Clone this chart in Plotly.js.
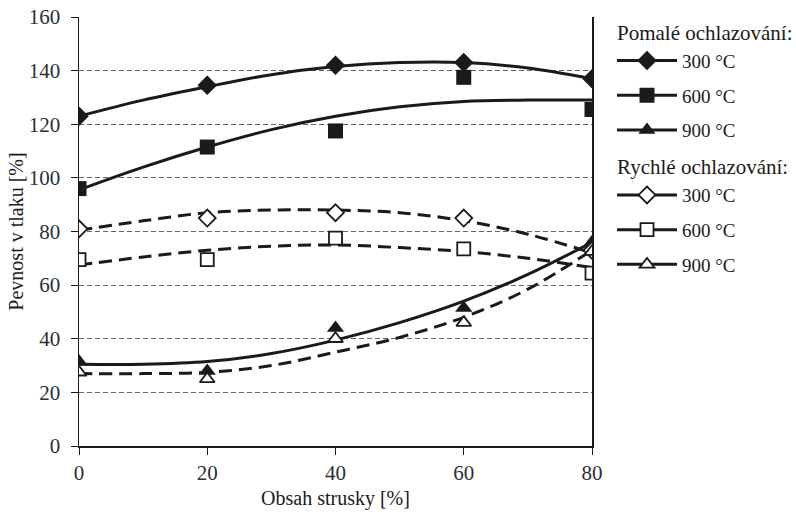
<!DOCTYPE html>
<html><head><meta charset="utf-8">
<script src="https://cdn.plot.ly/plotly-3.0.1.min.js"></script>
<style>body{margin:0;background:#fff}#c{width:796px;height:514px}</style>
</head><body><div id="c"></div>
<script>
// measured points
const xPts = [0, 20, 40, 60, 80];
const slow300 = [123, 134.5, 142, 143, 137];
const slow600 = [96, 111.5, 117.5, 137.5, 125.5];
const slow900 = [31.5, 28, 44, 51.5, 76];
const fast300 = [81, 85, 87, 85, 73];
const fast600 = [69.5, 69.5, 77.5, 73.5, 64.5];
const fast900 = [27.5, 25, 40, 46, 72.5];
// trend curves
const xCurve = [0, 10, 20, 30, 40, 50, 60, 70, 80];
const slow300Fit = [123, 129, 134, 138.5, 141.5, 143, 143, 141, 137];
const slow600Fit = [95.5, 104, 111.5, 118, 123, 126.5, 128.5, 129, 129];
const slow900Fit = [30.5, 30.5, 31.5, 34.5, 39.5, 46, 54, 64, 76];
const fast300Fit = [80.5, 84, 87, 88, 88, 87, 84, 79, 72];
const fast600Fit = [67.5, 70.5, 73, 74.5, 75, 74, 72.5, 70, 66.5];
const fast900Fit = [27, 27, 27.5, 30, 35, 40.5, 48, 58.5, 73];
const legendLabels = ['300 °C', '600 °C', '900 °C'];
const groupTitles = ['Pomalé ochlazování:', 'Rychlé ochlazování:'];

const serif = 'Liberation Serif, Times New Roman, serif';
const blk = '#1a1a1a';
const tickCol = '#2b3038';
const traces = [];
const slowSets = [[slow300, slow300Fit, 'diamond'], [slow600, slow600Fit, 'square'], [slow900, slow900Fit, 'triangle-up']];
const fastSets = [[fast300, fast300Fit, 'diamond'], [fast600, fast600Fit, 'square'], [fast900, fast900Fit, 'triangle-up']];
const dashStyle = '13px,7px';
function addCurves(sets, dash) {
  sets.forEach((s) => {
    traces.push({x: xCurve, y: s[1], mode: 'lines', line: {color: blk, width: 3, dash: dash, shape: 'spline'}, showlegend: false, hoverinfo: 'skip'});
  });
}
addCurves(slowSets, 'solid');
addCurves(fastSets, dashStyle);
function mk(sym, open) {
  return {symbol: sym, size: open ? 13 : 15, color: open ? '#ffffff' : blk, line: {color: blk, width: open ? 1.8 : 0}};
}
function addPts(sets, open) {
  sets.forEach((s) => {
    traces.push({x: xPts, y: s[0], mode: 'markers', showlegend: false, marker: mk(s[2], open)});
  });
}
addPts(slowSets, false);
addPts(fastSets, true);
// legend entries (each its own group so that the gap spaces them out)
[[slowSets, 'g1', groupTitles[0], false], [fastSets, 'g2', groupTitles[1], true]].forEach(g => {
  g[0].forEach((s, i) => {
    const t = {x: [null], y: [null], mode: 'lines+markers', name: legendLabels[i],
      legendgroup: g[1] + '_' + i,
      line: {color: blk, width: 3}, marker: mk(s[2], g[3])};
    if (i === 0) t.legendgrouptitle = {text: g[2], font: {family: serif, size: 21, color: blk}};
    traces.push(t);
  });
});

const layout = {
  width: 796, height: 514,
  margin: {l: 79, r: 204, t: 17, b: 68, autoexpand: false},
  paper_bgcolor: '#fff', plot_bgcolor: '#fff',
  font: {family: serif, color: blk, size: 18},
  showlegend: true,
  legend: {x: 1.039, xanchor: 'left', y: 1.013, yanchor: 'top', font: {family: serif, size: 19, color: blk},
    tracegroupgap: 7, itemwidth: 60, maxheight: 450, bgcolor: 'rgba(0,0,0,0)'},
  xaxis: {range: [0, 80], tickvals: [0, 20, 40, 60, 80], ticks: 'outside', ticklen: 7, tickcolor: blk,
    showline: true, linecolor: blk, linewidth: 1.5, mirror: false, showgrid: false, zeroline: false,
    tickfont: {size: 21, color: tickCol}, title: {text: 'Obsah strusky [%]', font: {size: 20}, standoff: 7}},
  yaxis: {range: [0, 160], tickvals: [0, 20, 40, 60, 80, 100, 120, 140, 160], ticks: 'outside', ticklen: 7, tickcolor: blk,
    ticklabelstandoff: 6,
    showline: true, linecolor: blk, linewidth: 1.5, mirror: true, showgrid: true, gridcolor: '#666', griddash: '5px,3px', gridwidth: 1,
    zeroline: false, tickfont: {size: 21, color: tickCol}, title: {text: 'Pevnost v tlaku [%]', font: {size: 20}, standoff: 0}}
};
Plotly.newPlot('c', traces, layout, {staticPlot: true});
</script></body></html>
